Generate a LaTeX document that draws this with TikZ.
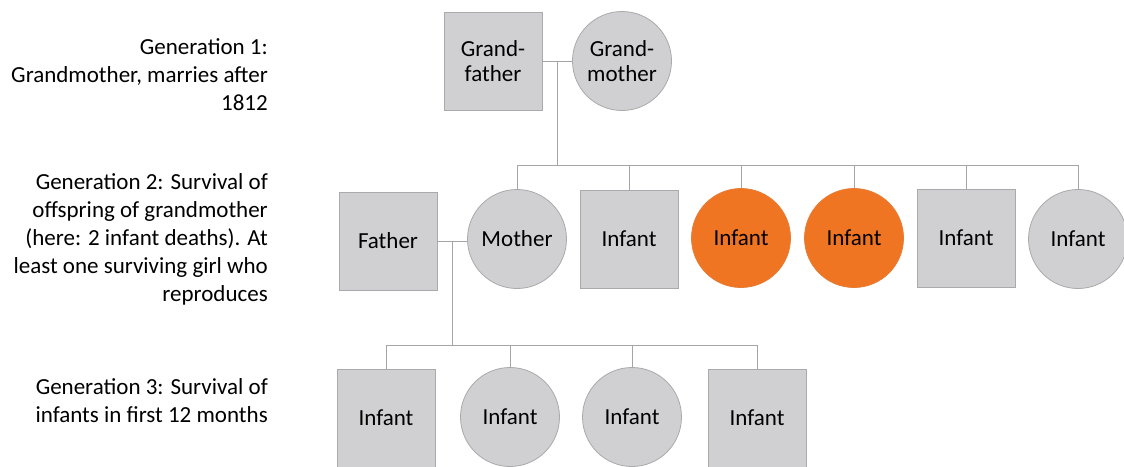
\documentclass[tikz,border=0pt]{standalone}
\usepackage{fontspec}
\setmainfont{Carlito}
\usepackage{tikz}
\usetikzlibrary{positioning,calc}

\definecolor{kin}{RGB}{208,208,210}
\definecolor{kinline}{RGB}{170,170,172}
\definecolor{death}{RGB}{240,117,34}
\definecolor{tie}{RGB}{165,165,167}

\tikzset{
  person/.style={draw=kinline, line width=0.8pt, fill=kin, inner sep=2pt, align=center,
    font=\fontsize{23}{25}\selectfont},
  male/.style={person, rectangle, minimum size=98pt},
  female/.style={person, circle, minimum size=99pt},
  dead/.style={fill=death, draw=death!85!kinline},
  gentext/.style={anchor=east, align=right, inner sep=0pt, font=\fontsize{23}{28}\selectfont},
  tieline/.style={draw=tie, line width=0.9pt}
}

\begin{document}
\begin{tikzpicture}[x=1pt, y=-1pt]
  \useasboundingbox (0,0) rectangle (1124,466);

  \node[gentext] (g1) at (268,75) {Generation 1:\\Grandmother, marries after\\1812};
  \node[gentext] (g2) at (268,239) {Generation 2: Survival of\\offspring of grandmother\\(here: 2 infant deaths). At\\least one surviving girl who\\reproduces};
  \node[gentext] (g3) at (268,401) {Generation 3: Survival of\\infants in first 12 months};

  \node[male] (gf) at (493,61) {Grand-\\father};
  \node[female] (gm) at (622,61) {Grand-\\mother};

  \node[male] (fa) at (388,241) {Father};
  \node[female] (mo) at (517,239) {Mother};
  \node[male] (i1) at (629,239) {Infant};
  \node[female,dead] (i2) at (741,238) {Infant};
  \node[female,dead] (i3) at (854,238) {Infant};
  \node[male] (i4) at (966,238) {Infant};
  \node[female] (i5) at (1078,239) {Infant};

  \node[male] (c1) at (386,418) {Infant};
  \node[female] (c2) at (510,417) {Infant};
  \node[female] (c3) at (632,417) {Infant};
  \node[male] (c4) at (757,418) {Infant};

  \draw[tieline] (gf.east) -- (gm.west);
  \coordinate (m1) at ($(gf.east)!0.5!(gm.west)$);
  \coordinate (s1) at ($(m1)+(0,104)$);
  \draw[tieline] (m1) -- (s1);
  \draw[tieline] (mo.north |- s1) -- (i5.north |- s1);
  \foreach \k in {mo,i1,i2,i3,i4,i5}
    \draw[tieline] (\k.north |- s1) -- (\k.north);

  \draw[tieline] (fa.east) -- (fa.east -| mo.west);
  \coordinate (m2) at ($(fa.east)!0.5!(fa.east -| mo.west)$);
  \coordinate (s2) at ($(m2)+(0,104)$);
  \draw[tieline] (m2) -- (s2);
  \draw[tieline] (c1.north |- s2) -- (c4.north |- s2);
  \foreach \k in {c1,c2,c3,c4}
    \draw[tieline] (\k.north |- s2) -- (\k.north);
\end{tikzpicture}
\end{document}
